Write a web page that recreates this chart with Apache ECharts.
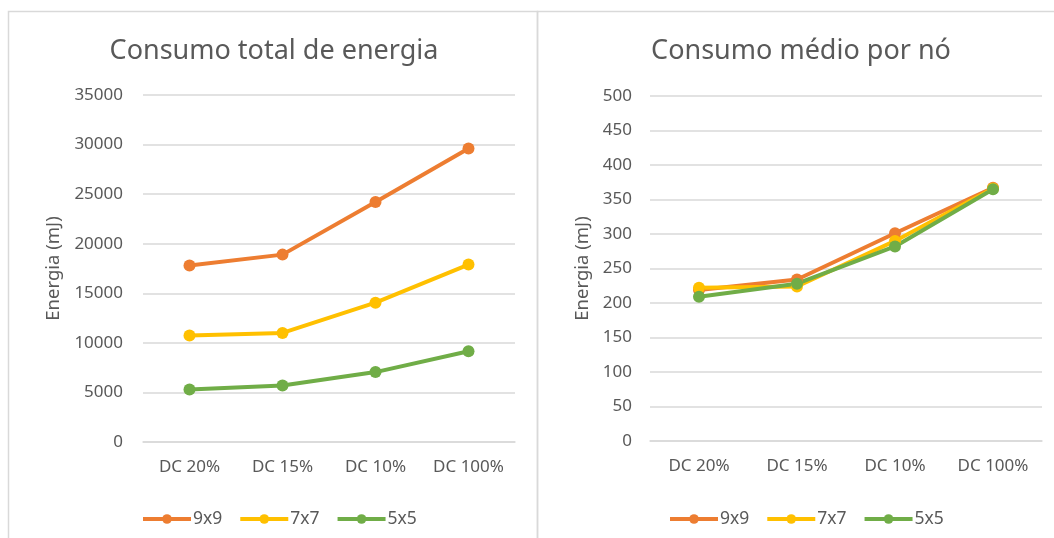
<!DOCTYPE html>
<html>
<head>
<meta charset="utf-8">
<script src="https://cdn.jsdelivr.net/npm/echarts@6/dist/echarts.min.js"></script>
<style>
  html, body { margin: 0; padding: 0; background: #ffffff; }
  #chart { width: 1054px; height: 538px; }
</style>
</head>
<body>
<div id="chart"></div>
<script>
// Duty-cycle scenarios on the x axis
const categories = ['DC 20%', 'DC 15%', 'DC 10%', 'DC 100%'];
const seriesNames = ['9x9', '7x7', '5x5'];

// Total energy consumption (mJ) per grid size
const total9x9 = [17800, 18900, 24200, 29600];
const total7x7 = [10750, 11000, 14050, 17900];
const total5x5 = [5300, 5700, 7050, 9150];

// Average consumption per node (mJ) per grid size
const avg9x9 = [219, 234, 301, 367];
const avg7x7 = [222, 224, 290, 366];
const avg5x5 = [209, 228, 282, 365];

// Y tick ranges
const totalTicks = { min: 0, max: 35000, step: 5000 };
const avgTicks = { min: 0, max: 500, step: 50 };

const colors = ['#ED7D31', '#FFC000', '#70AD47'];
const FONT = 'Noto Sans, DejaVu Sans, sans-serif';
const TEXT = '#595959';
const GRID = '#D9D9D9';

function yAxis(idx, ticks, nameGap, labelMargin) {
  return {
    type: 'value', gridIndex: idx,
    min: ticks.min, max: ticks.max, interval: ticks.step,
    name: 'Energia (mJ)', nameLocation: 'middle', nameGap: nameGap,
    nameTextStyle: { color: TEXT, fontSize: 18.5, fontFamily: FONT },
    axisLine: { show: false }, axisTick: { show: false },
    axisLabel: { color: TEXT, fontSize: 17, fontFamily: FONT, margin: labelMargin,
                 formatter: (v) => String(v) },
    splitLine: { lineStyle: { color: GRID, width: 1.5 } }
  };
}

function xAxis(idx) {
  return {
    type: 'category', gridIndex: idx, data: categories, boundaryGap: true,
    axisLine: { lineStyle: { color: GRID, width: 1.5 } },
    axisTick: { show: false },
    axisLabel: { color: TEXT, fontSize: 17, fontFamily: FONT, margin: 17 }
  };
}

function lineSeries(name, data, idx, color) {
  return {
    type: 'line', name: name, data: data,
    xAxisIndex: idx, yAxisIndex: idx,
    symbol: 'circle', symbolSize: 12,
    lineStyle: { color: color, width: 4 },
    itemStyle: { color: color },
    emphasis: { disabled: true }
  };
}

function legend(left) {
  return {
    left: left, top: 510, padding: 0,
    itemWidth: 48, itemHeight: 12, itemGap: 16,
    lineStyle: { width: 4 },
    textStyle: { color: TEXT, fontSize: 17.5, fontFamily: FONT, padding: [0, 0, 0, -3] },
    data: seriesNames
  };
}

const chart = echarts.init(document.getElementById('chart'), null, { renderer: 'canvas' });

chart.setOption({
  animation: false,
  color: colors,
  grid: [
    { left: 143, right: 539, top: 95, bottom: 96 },
    { left: 650, right: 12, top: 96, bottom: 97 }
  ],
  xAxis: [xAxis(0), xAxis(1)],
  yAxis: [yAxis(0, totalTicks, 80, 20), yAxis(1, avgTicks, 58, 18)],
  legend: [legend(141), legend(668)],
  series: [
    lineSeries(seriesNames[0], total9x9, 0, colors[0]),
    lineSeries(seriesNames[1], total7x7, 0, colors[1]),
    lineSeries(seriesNames[2], total5x5, 0, colors[2]),
    lineSeries(seriesNames[0], avg9x9, 1, colors[0]),
    lineSeries(seriesNames[1], avg7x7, 1, colors[1]),
    lineSeries(seriesNames[2], avg5x5, 1, colors[2])
  ],
  graphic: [
    { type: 'rect', shape: { x: 8.5, y: 11.5, width: 529, height: 600 },
      style: { fill: 'none', stroke: '#D9D9D9', lineWidth: 1.5 }, silent: true },
    { type: 'rect', shape: { x: 537.5, y: 11.5, width: 600, height: 600 },
      style: { fill: 'none', stroke: '#D9D9D9', lineWidth: 1.5 }, silent: true },
    { type: 'text', x: 274, y: 51,
      style: { text: 'Consumo total de energia', align: 'center', verticalAlign: 'middle',
               fill: TEXT, fontSize: 27, fontFamily: FONT } },
    { type: 'text', x: 801, y: 51,
      style: { text: 'Consumo médio por nó', align: 'center', verticalAlign: 'middle',
               fill: TEXT, fontSize: 27, fontFamily: FONT } }
  ]
});
</script>
</body>
</html>
